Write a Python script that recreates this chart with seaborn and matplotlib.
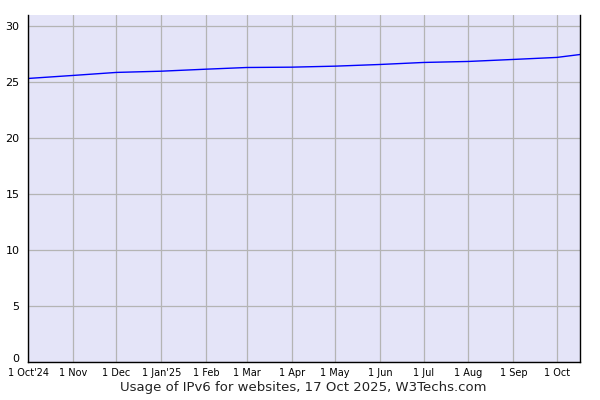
import matplotlib
matplotlib.use("Agg")
import matplotlib.pyplot as plt
import matplotlib.transforms as mtrans
import pandas as pd
import seaborn as sns

# IPv6 usage for websites (percent)
DATES = ["2024-10-01", "2024-11-01", "2024-12-01", "2025-01-01", "2025-02-01",
         "2025-03-01", "2025-04-01", "2025-05-01", "2025-06-01", "2025-07-01",
         "2025-08-01", "2025-09-01", "2025-10-01", "2025-10-17"]
USAGE = [25.33, 25.60, 25.87, 25.98, 26.16, 26.31, 26.34, 26.43, 26.58,
         26.76, 26.85, 27.03, 27.21, 27.47]

TICK_DATES = ["2024-10-01", "2024-11-01", "2024-12-01", "2025-01-01", "2025-02-01",
              "2025-03-01", "2025-04-01", "2025-05-01", "2025-06-01", "2025-07-01",
              "2025-08-01", "2025-09-01", "2025-10-01"]
TICK_LABELS = ["1 Oct'24", "1 Nov", "1 Dec", "1 Jan'25", "1 Feb", "1 Mar", "1 Apr",
               "1 May", "1 Jun", "1 Jul", "1 Aug", "1 Sep", "1 Oct"]
Y_TICKS = [0, 5, 10, 15, 20, 25, 30]
TITLE = "Usage of IPv6 for websites, 17 Oct 2025, W3Techs.com"

sns.set_theme(style="white")
plt.rcParams["font.family"] = ["DejaVu Sans"]

df = pd.DataFrame({"date": pd.to_datetime(DATES), "usage": USAGE})

fig = plt.figure(figsize=(6, 4), dpi=100)
ax = fig.add_axes([28 / 600, 38 / 400, 552 / 600, 347 / 400])
ax.set_facecolor("#e4e4f8")

sns.lineplot(data=df, x="date", y="usage", color="#0000ff", linewidth=1, ax=ax)

ax.set_xlim(pd.Timestamp("2024-10-01"), pd.Timestamp("2025-10-17"))
ax.set_ylim(0, 31)
ax.set_xticks(pd.to_datetime(TICK_DATES))
ax.set_xticklabels(TICK_LABELS, fontsize=7, color="black")
ax.set_yticks(Y_TICKS)
ax.set_yticklabels([str(v) for v in Y_TICKS], fontsize=8, color="black")
ax.grid(True, color="#b4b4b4", linewidth=0.9)
ax.set_axisbelow(True)

ax.tick_params(axis="y", direction="out", length=4, width=1, color="black", pad=2)
ax.tick_params(axis="x", length=0, pad=4)

# nudge the "0" label up a little so it clears "1 Oct'24"
zero = ax.get_yticklabels()[0]
zero.set_transform(zero.get_transform() + mtrans.ScaledTranslation(0, 4 / 100, fig.dpi_scale_trans))

for side in ["left", "bottom", "right"]:
    ax.spines[side].set_visible(True)
    ax.spines[side].set_color("black")
    ax.spines[side].set_linewidth(1)
ax.spines["top"].set_visible(False)

ax.set_xlabel("")
ax.set_ylabel("")

fig.text(0.505, 0.03, TITLE, ha="center", va="center", fontsize=9.5, color="#222222")

fig.savefig("out.png", dpi=100)
